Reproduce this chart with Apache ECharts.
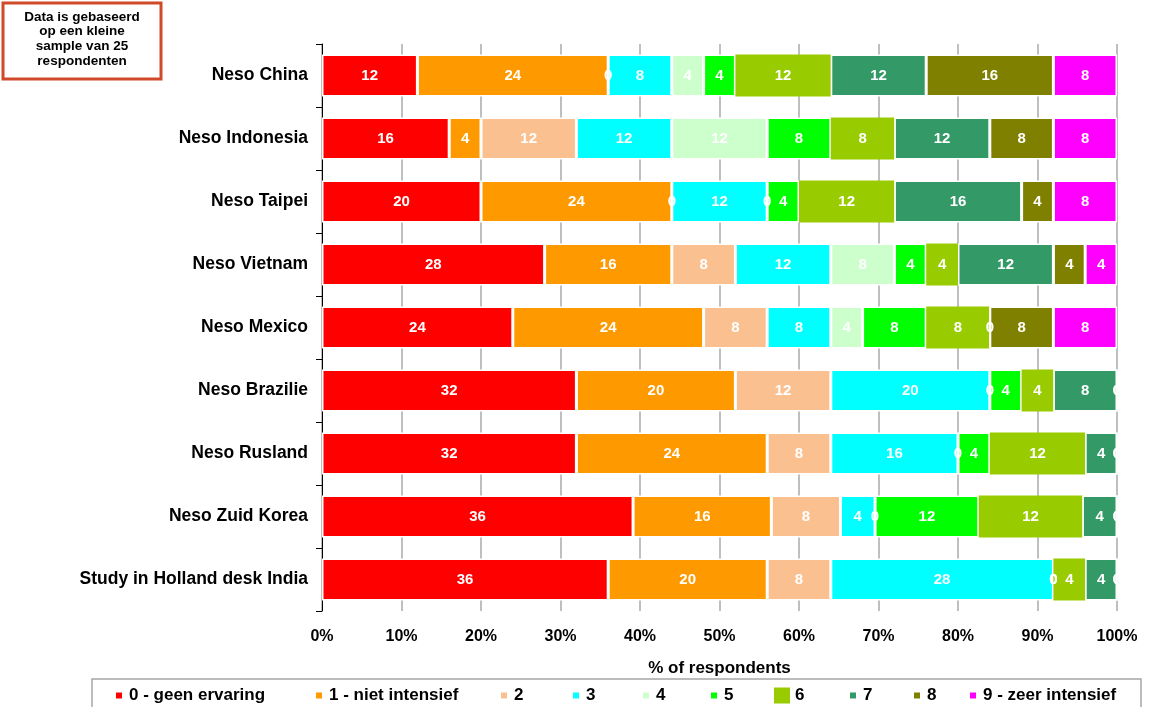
<!DOCTYPE html>
<html>
<head>
<meta charset="utf-8">
<script src="https://cdn.jsdelivr.net/npm/echarts@6/dist/echarts.min.js"></script>
<style>
html,body{margin:0;padding:0;background:#fff;}
#chart{width:1151px;height:707px;}
</style>
</head>
<body>
<div id="chart"></div>
<script>
// Categories (top to bottom)
var categories = ['Neso China','Neso Indonesia','Neso Taipei','Neso Vietnam','Neso Mexico','Neso Brazilie','Neso Rusland','Neso Zuid Korea','Study in Holland desk India'];
// Series names
var seriesNames = ['0 - geen ervaring','1 - niet intensief','2','3','4','5','6','7','8','9 - zeer intensief'];
// Raw counts per series (per category, same order as categories)
var s0 = [12,16,20,28,24,32,32,36,36];
var s1 = [24, 4,24,16,24,20,24,16,20];
var s2 = [ 0,12, 0, 8, 8,12, 8, 8, 8];
var s3 = [ 8,12,12,12, 8,20,16, 4,28];
var s4 = [ 4,12, 0, 8, 4, 0, 0, 0, 0];
var s5 = [ 4, 8, 4, 4, 8, 4, 4,12, 0];
var s6 = [12, 8,12, 4, 8, 4,12,12, 4];
var s7 = [12,12,16,12, 0, 8, 4, 4, 4];
var s8 = [16, 8, 4, 4, 8, 0, 0, 0, 0];
var s9 = [ 8, 8, 8, 4, 8, 0, 0, 0, 0];
var xTickLabels = ['0%','10%','20%','30%','40%','50%','60%','70%','80%','90%','100%'];

var rawSeries = [s0,s1,s2,s3,s4,s5,s6,s7,s8,s9];
var colors = ['#ff0000','#ff9900','#fac090','#00ffff','#ccffcc','#00ff00','#99cc00','#339966','#808000','#ff00ff'];
var legendLeft = [114,314,499,571,641,709,777,848,912,968];

var rowSums = categories.map(function(c,i){
  var s=0; rawSeries.forEach(function(a){s+=a[i];}); return s;
});

var FONT = '"Liberation Sans", Arial, sans-serif';

var series = rawSeries.map(function(arr, k){
  var is6 = (k === 6);
  return {
    name: seriesNames[k],
    type: 'bar',
    stack: 'total',
    barCategoryGap: '33%',
    data: arr.map(function(v,i){ return {value: v / rowSums[i] * 100, raw: v}; }),
    itemStyle: {
      color: colors[k],
      borderColor: is6 ? colors[k] : '#ffffff',
      borderWidth: is6 ? 3 : 1.5
    },
    label: {
      show: true,
      position: 'inside',
      color: '#ffffff',
      fontFamily: FONT,
      fontWeight: 'bold',
      fontSize: 15,
      formatter: function(p){ return String(p.data.raw); }
    },
    emphasis: {disabled: true},
    animation: false
  };
});

var legends = seriesNames.map(function(n,k){
  var is6 = (k === 6);
  return {
    data: [n],
    left: legendLeft[k] - (is6 ? 3 : 0),
    top: 687,
    icon: 'rect',
    itemWidth: is6 ? 14 : 8,
    itemHeight: is6 ? 14 : 8,
    itemGap: 0,
    padding: 0,
    selectedMode: false,
    textStyle: {fontFamily: FONT, fontWeight: 'bold', fontSize: 17, color: '#000', padding: [0,0,0,1]}
  };
});

var chart = echarts.init(document.getElementById('chart'));
chart.setOption({
  animation: false,
  backgroundColor: '#ffffff',
  color: colors,
  grid: {left: 322, right: 34, top: 44, bottom: 96, containLabel: false},
  xAxis: {
    type: 'value',
    min: 0, max: 100, interval: 10,
    axisLine: {show: false},
    axisTick: {show: false},
    splitLine: {show: true, lineStyle: {color: '#bfbfbf', width: 2}},
    axisLabel: {
      margin: 18,
      fontFamily: FONT, fontWeight: 'bold', fontSize: 16, color: '#000',
      formatter: function(v){ return xTickLabels[Math.round(v/10)]; }
    },
    name: '% of respondents',
    nameLocation: 'middle',
    nameGap: 49,
    nameTextStyle: {fontFamily: FONT, fontWeight: 'bold', fontSize: 17, color: '#000'}
  },
  yAxis: {
    type: 'category',
    data: categories,
    inverse: true,
    axisLine: {show: true, lineStyle: {color: '#000', width: 1}},
    axisTick: {show: true, length: 6, lineStyle: {color: '#000'}},
    axisLabel: {margin: 14, fontFamily: FONT, fontWeight: 'bold', fontSize: 17.5, color: '#000'},
    splitLine: {show: false}
  },
  legend: legends,
  graphic: [
    {type: 'rect', shape: {x: 3, y: 3, width: 158, height: 76}, style: {fill: '#fff', stroke: '#d04a2a', lineWidth: 3}, z: 10},
    {type: 'text', x: 82, y: 39, style: {text: 'Data is gebaseerd\nop een kleine\nsample van 25\nrespondenten', align: 'center', verticalAlign: 'middle', fontFamily: FONT, fontWeight: 'bold', fontSize: 13.5, lineHeight: 14.8, fill: '#000'}, z: 11},
    {type: 'rect', shape: {x: 92, y: 679, width: 1049, height: 40}, style: {fill: 'none', stroke: '#a6a6a6', lineWidth: 1.5}, z: 1}
  ],
  series: series
});
</script>
</body>
</html>
